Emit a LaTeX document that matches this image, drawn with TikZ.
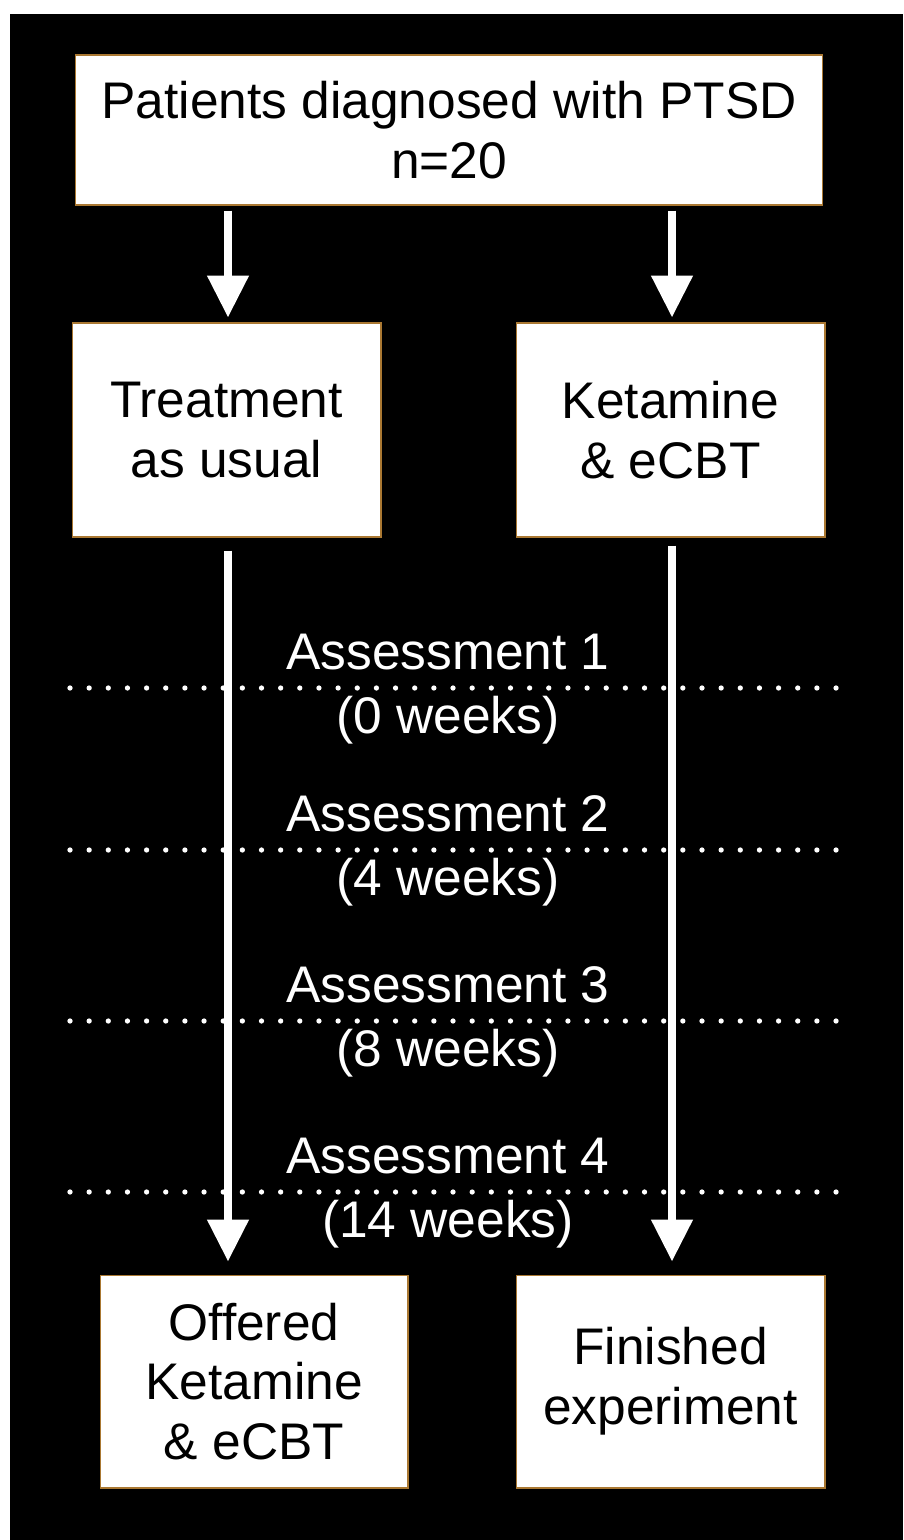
\documentclass[tikz,border=0pt]{standalone}
\usepackage{fontspec}
\setmainfont{Liberation Sans}
\usetikzlibrary{arrows.meta}
\definecolor{boxedge}{RGB}{170,120,50}
\begin{document}
\begin{tikzpicture}[x=0.02cm, y=-0.02cm,
    stagebox/.style={draw=boxedge, line width=0.6pt, fill=white, text=black, align=center,
        font=\fontsize{29.3}{34}\selectfont, inner sep=0pt},
    flowarrow/.style={white, line width=0.16cm, -{Triangle[width=0.8cm, length=0.84cm]}},
    timeline/.style={white, line width=3pt, line cap=round, dash pattern=on 0pt off 10.9pt},
    timelabel/.style={text=white, align=center, font=\fontsize{29.3}{36.3}\selectfont, inner sep=0pt}]

    % Page and background
    \useasboundingbox (0,0) rectangle (903,1540);
    \fill[black] (10,14) rectangle (903,1540);

    % Boxes
    \node[stagebox, minimum width=14.96cm, minimum height=3cm] (patients) at (449,130)
        {Patients diagnosed with PTSD\\n=20};
    \node[stagebox, minimum width=6.18cm, minimum height=4.28cm] (usual) at (226.5,430)
        {Treatment\\as usual};
    \node[stagebox, minimum width=6.18cm, minimum height=4.28cm] (ketamine) at (670.5,430)
        {Ketamine\\\& eCBT};
    \node[stagebox, minimum width=6.16cm, minimum height=4.26cm] (offered) at (254,1381.5)
        {Offered\\Ketamine\\\& eCBT};
    \node[stagebox, minimum width=6.18cm, minimum height=4.26cm] (finished) at (670.5,1381.5)
        {Finished\\experiment};

    % Assessment time points
    \foreach \y/\n/\w in {688/1/0, 850/2/4, 1021/3/8, 1192/4/14} {
        \draw[timeline] (70,\y) -- (843,\y);
        \node[timelabel] (assess\n) at (448,\y+1) {Assessment \n\\(\w\ weeks)};
    }

    % Arrows into the two arms
    \coordinate (usualtop) at (usual.north -| 228,0);
    \coordinate (kettop) at (ketamine.north -| 672,0);
    \draw[flowarrow, shorten <=0.1cm, shorten >=0.1cm] (patients.south -| usualtop) -- (usualtop);
    \draw[flowarrow, shorten <=0.1cm, shorten >=0.1cm] (patients.south -| kettop) -- (kettop);

    % Arrows through the assessments
    \draw[flowarrow, shorten <=0.26cm, shorten >=0.26cm] (usual.south -| usualtop) -- (offered.north -| usualtop);
    \draw[flowarrow, shorten <=0.16cm, shorten >=0.26cm] (ketamine.south -| kettop) -- (finished.north -| kettop);

\end{tikzpicture}
\end{document}
